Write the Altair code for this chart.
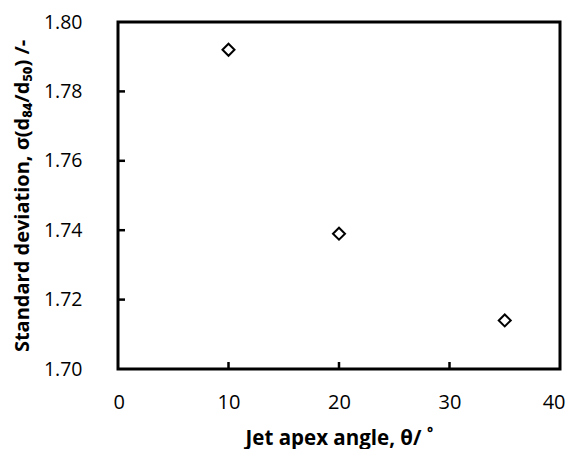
import altair as alt
import pandas as pd

angle = [10, 20, 35]
sigma = [1.792, 1.739, 1.714]
x_ticks = [0, 10, 20, 30, 40]
y_ticks = [1.70, 1.72, 1.74, 1.76, 1.78, 1.80]

df = pd.DataFrame({"angle": angle, "sigma": sigma})
xt = pd.DataFrame({"angle": x_ticks[1:-1]})
yt = pd.DataFrame({"sigma": y_ticks[1:-1]})

FONT = "Open Sans"
W, H = 442, 347

xscale = alt.Scale(domain=[0, 40], nice=False)
yscale = alt.Scale(domain=[1.70, 1.80], nice=False, zero=False)

xaxis = alt.Axis(values=x_ticks, title="Jet apex angle, θ/ ˚", tickSize=0,
                 labelPadding=23, titlePadding=16, domain=False, grid=False,
                 labelFont=FONT, labelFontSize=20, labelColor="black",
                 titleFont=FONT, titleFontSize=20.5, titleFontWeight="bold",
                 titleColor="black", labelFlush=True, labelFlushOffset=5)
yaxis = alt.Axis(values=y_ticks, format=".2f",
                 title="Standard deviation, σ(d₈₄/d₅₀) /-", tickSize=0,
                 labelPadding=36, titlePadding=11, domain=False, grid=False,
                 labelFont=FONT, labelFontSize=19.5, labelColor="black",
                 titleFont=FONT, titleFontSize=20, titleFontWeight="bold",
                 titleColor="black", labelFlush=False)

pts = alt.Chart(df).mark_point(
    shape="diamond", size=144, filled=False, color="black", strokeWidth=2, opacity=1
).encode(
    x=alt.X("angle:Q", scale=xscale, axis=xaxis),
    y=alt.Y("sigma:Q", scale=yscale, axis=yaxis),
)

yticks = alt.Chart(yt).mark_rule(color="black", strokeWidth=2.5).encode(
    y=alt.Y("sigma:Q", scale=yscale, axis=yaxis),
    x=alt.value(0), x2=alt.value(7),
)
xticks = alt.Chart(xt).mark_rule(color="black", strokeWidth=2.5).encode(
    x=alt.X("angle:Q", scale=xscale, axis=xaxis),
    y=alt.value(H), y2=alt.value(H - 7),
)

chart = alt.layer(pts, yticks, xticks).properties(
    width=W, height=H,
    background="white",
    autosize=alt.AutoSizeParams(type="none"),
    padding={"left": 110, "top": 14, "right": 6, "bottom": 80},
).configure_view(stroke="black", strokeWidth=3)

chart.save("out.html", embed_options={"renderer": "svg", "actions": False})
